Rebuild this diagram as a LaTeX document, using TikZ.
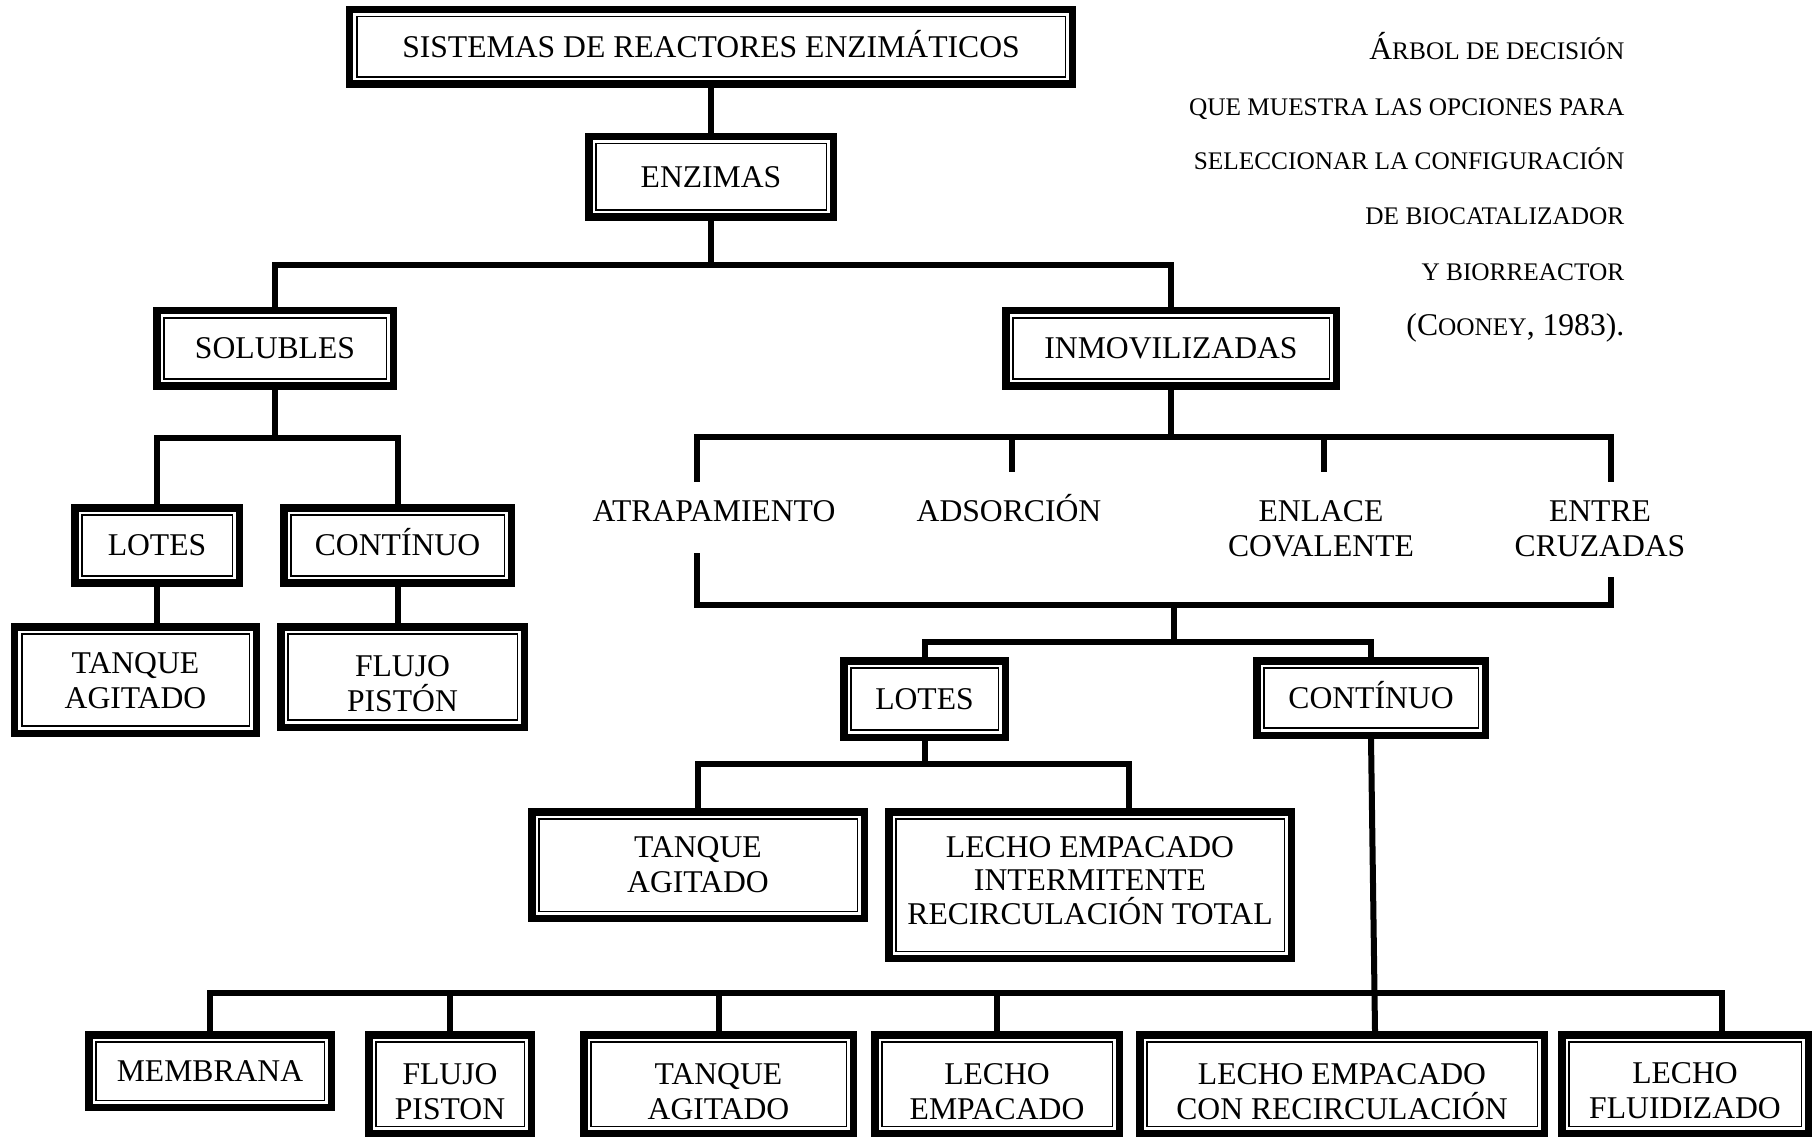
\documentclass[tikz,border=0pt]{standalone}
\usepackage{fontspec}
\setmainfont{Liberation Serif}
\newcommand\smc[1]{{\fontsize{7.2}{8}\selectfont #1}}
\newcommand\dn[1]{\rule{0pt}{#1}}
\tikzset{
  box/.style={draw, line width=0.075cm, inner sep=0pt, align=center, fill=white,
    path picture={\draw[line width=0.015cm]
      ([shift={(0.07cm,0.07cm)}]path picture bounding box.south west) rectangle
      ([shift={(-0.07cm,-0.07cm)}]path picture bounding box.north east);}},
  conn/.style={line width=0.06cm},
  lbl/.style={inner sep=0pt, align=center},
  note/.style={inner sep=0pt, anchor=base east},
}
\newcommand\mybox[7][]{%
  \pgfmathsetmacro\bxw{(#5-#3-7.5)*0.01}%
  \pgfmathsetmacro\bxh{(#6-#4-7.5)*0.01}%
  \node[box, minimum width=\bxw cm, minimum height=\bxh cm, #1] (#2) at ({(#3+#5)/2},{(#4+#6)/2}) {#7};}
\begin{document}
\begin{tikzpicture}[x=0.01cm, y=-0.01cm, font=\fontsize{9}{10}\selectfont]
\useasboundingbox[fill=white] (0,0) rectangle (1816,1137);
% boxes
\mybox{tit}{346}{6}{1076}{88}{SISTEMAS DE REACTORES ENZIM\smash{Á}TICOS}
\mybox{enz}{585}{133}{837}{221}{ENZIMAS}
\mybox{sol}{153}{307}{397}{390}{SOLUBLES}
\mybox{inm}{1002}{307}{1340}{390}{INMOVILIZADAS}
\mybox{lotL}{71}{504}{243}{587}{LOTES}
\mybox{conL}{280}{504}{515}{587}{CONT\smash{Í}NUO}
\mybox{tanL}{11}{623}{260}{737}{\dn{0.23cm}TANQUE\\AGITADO}
\mybox{fluL}{277}{623}{528}{731}{\dn{0.335cm}FLUJO\\PISTÓN}
\mybox{lotR}{840}{657}{1009}{741}{LOTES}
\mybox{conR}{1253}{657}{1489}{739}{CONT\smash{Í}NUO}
\mybox{tanM}{528}{808}{868}{922}{TANQUE\\AGITADO}
\mybox[font=\fontsize{9}{9.6}\selectfont]{lecI}{885}{808}{1295}{962}{LECHO EMPACADO\\INTERMITENTE\\RECIRCULACIÓN TOTAL\rule[-0.09cm]{0pt}{0pt}}
\mybox{mem}{85}{1031}{335}{1111}{MEMBRANA}
\mybox{fluB}{365}{1031}{535}{1137}{\dn{0.355cm}FLUJO\\PISTON}
\mybox{tanB}{580}{1031}{857}{1137}{\dn{0.36cm}TANQUE\\AGITADO}
\mybox{lecB}{871}{1031}{1123}{1137}{\dn{0.355cm}LECHO\\EMPACADO}
\mybox{lecR}{1136}{1031}{1548}{1137}{\dn{0.355cm}LECHO EMPACADO\\CON RECIRCULACIÓN}
\mybox{lecF}{1558}{1031}{1812}{1137}{\dn{0.34cm}LECHO\\FLUIDIZADO}
% labels
\node[lbl, anchor=base] (atr) at (714,521.5) {ATRAPAMIENTO};
\node[lbl, anchor=base] (ads) at (1009,521.5) {ADSORCIÓN};
\node[lbl] (enl) at (1321,529) {ENLACE\\COVALENTE};
\node[lbl] (ent) at (1600,529) {ENTRE\\CRUZADAS};
% note
\node[note] (t1) at (1625,60) {Á\smc{RBOL DE DECISIÓN}};
\node[note] (t2) at (1625,116) {\smc{QUE MUESTRA LAS OPCIONES PARA}};
\node[note] (t3) at (1625,170) {\smc{SELECCIONAR LA CONFIGURACIÓN}};
\node[note] (t4) at (1625,225) {\smc{DE BIOCATALIZADOR}};
\node[note] (t5) at (1625,281) {\smc{Y BIORREACTOR}};
\node[note] (t6) at (1625,336) {(C\smc{OONEY}, 1983).};
% connectors
\draw[conn] (tit.south) -- (enz.north);
\coordinate (j1) at (711,265);
\draw[conn] (enz.south) -- (j1);
\draw[conn] (sol.north) |- (j1) -| (inm.north);
\coordinate (j2) at (275,438);
\draw[conn] (sol.south) -- (j2);
\draw[conn] (lotL.north) |- (j2) -| (conL.north);
\draw[conn] (lotL.south) -- (lotL.south |- tanL.north);
\draw[conn] (conL.south) -- (conL.south |- fluL.north);
\coordinate (j3) at (1171,437);
\coordinate (a1) at (697,482);
\coordinate (a2) at (1012,472);
\coordinate (a3) at (1324,472);
\coordinate (a4) at (1611,482);
\draw[conn] (inm.south) -- (j3);
\draw[conn] (a1) |- (j3) -| (a4);
\draw[conn] (a2) -- (a2 |- j3);
\draw[conn] (a3) -- (a3 |- j3);
\coordinate (b1) at (697,553);
\coordinate (b2) at (1611,577);
\coordinate (j4) at (1174,605);
\coordinate (j5) at (1174,642);
\draw[conn] (b1) |- (j4) -| (b2);
\draw[conn] (j4) -- (j5);
\draw[conn] (lotR.north) |- (j5) -| (conR.north);
\coordinate (j6) at (924.5,764);
\coordinate (c1) at (1129,808);
\draw[conn] (lotR.south) -- (j6);
\draw[conn] (tanM.north) |- (j6) -| (c1);
\coordinate (k2) at (1375,1031);
\draw[conn] (conR.south) -- (k2);
\coordinate (j7) at (1375,993);
\coordinate (d6) at (1722,1031);
\draw[conn] (mem.north) |- (j7) -| (d6);
\draw[conn] (fluB.north) -- (fluB.north |- j7);
\draw[conn] (tanB.north) -- (tanB.north |- j7);
\draw[conn] (lecB.north) -- (lecB.north |- j7);
\end{tikzpicture}
\end{document}
